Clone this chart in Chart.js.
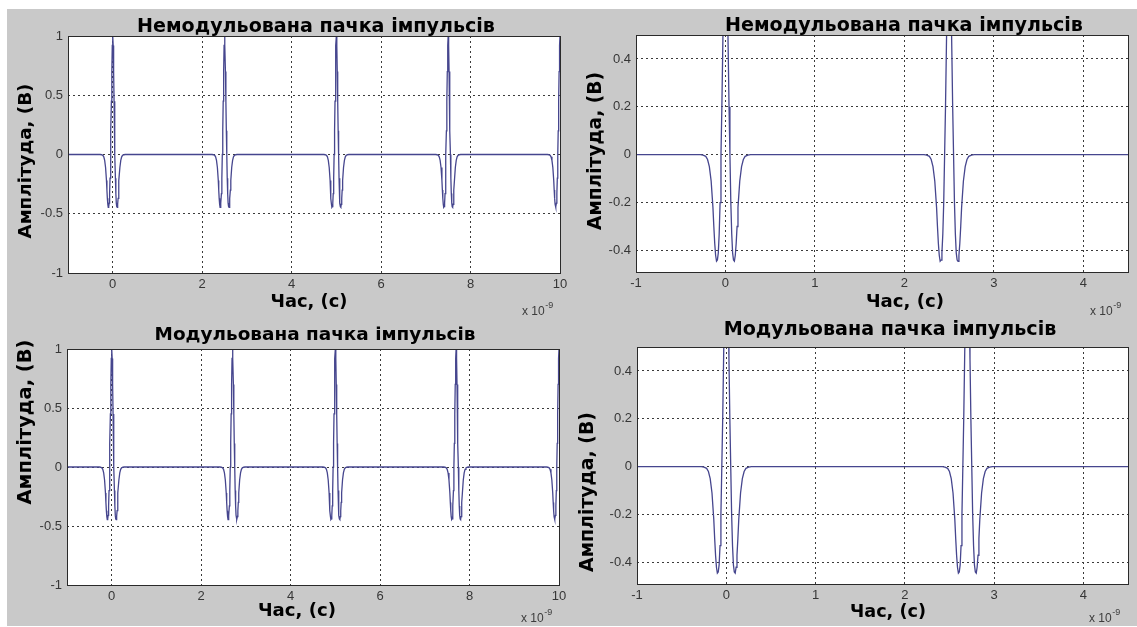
<!DOCTYPE html>
<html><head><meta charset="utf-8">
<script src="https://cdn.jsdelivr.net/npm/chart.js@4.4.1/dist/chart.umd.min.js"></script>
<style>
html,body{margin:0;padding:0;background:#fff;width:1137px;height:627px;overflow:hidden}
#bg{position:absolute;left:7px;top:9px;width:1130px;height:617px;background:#c9c9c9}
canvas{position:absolute;left:0;top:0}
</style></head><body>
<div id="bg"></div>
<canvas id="c0" width="1137" height="627"></canvas>
<canvas id="c1" width="1137" height="627"></canvas>
<canvas id="c2" width="1137" height="627"></canvas>
<canvas id="c3" width="1137" height="627"></canvas>
<script>
// ---- data (time in units of 1e-9 s) ----
const pulseOffsets = [-0.28,-0.25,-0.22,-0.2,-0.18,-0.16,-0.14,-0.13,-0.12,-0.11,-0.1,-0.09,-0.08,-0.07,-0.06,-0.05,-0.04,-0.03,-0.02,-0.01,0,
                      0.01,0.02,0.03,0.04,0.05,0.06,0.07,0.08,0.09,0.1,0.11,0.12,0.13,0.14,0.16,0.18,0.2,0.22,0.25,0.28];
const pulseValues  = [0,-0.002,-0.007,-0.02,-0.05,-0.11,-0.22,-0.3,-0.37,-0.42,-0.445,-0.44,-0.41,-0.33,-0.2,0,0.2,0.45,0.7,0.92,1,
                      0.92,0.7,0.45,0.2,0,-0.2,-0.33,-0.41,-0.44,-0.445,-0.42,-0.37,-0.3,-0.22,-0.11,-0.05,-0.02,-0.007,-0.002,0];
const unmodulatedCenters = [0, 2.5, 5.0, 7.5, 10.0];
const modulatedCenters   = [0, 2.7, 5.0, 7.7, 10.0];
const startTime = -1;

const xTicksWide = [0, 2, 4, 6, 8, 10];
const xTickLabelsWide = ['0','2','4','6','8','10'];
const yTicksWide = [-1, -0.5, 0, 0.5, 1];
const yTickLabelsWide = ['-1','-0.5','0','0.5','1'];
const xTicksZoom = [-1, 0, 1, 2, 3, 4];
const xTickLabelsZoom = ['-1','0','1','2','3','4'];
const yTicksZoom = [-0.4, -0.2, 0, 0.2, 0.4];
const yTickLabelsZoom = ['-0.4','-0.2','0','0.2','0.4'];
const xRangeWide = [-1, 10];
const yRangeWide = [-1, 1];
const xRangeZoom = [-1, 4.5];
const yRangeZoom = [-0.49, 0.5];

const titles = ['Немодульована пачка імпульсів','Немодульована пачка імпульсів','Модульована пачка імпульсів','Модульована пачка імпульсів'];
const xAxisLabel = 'Час, (с)';
const yAxisLabel = 'Амплітуда, (В)';
const xExponentBase = 'x 10';
const xExponentPower = '-9';

function burst(centers){
  const pts = [{x:startTime, y:0}];
  centers.forEach(c => pulseOffsets.forEach((o,i) => pts.push({x:c+o, y:pulseValues[i]})));
  return pts;
}
const unmodulated = burst(unmodulatedCenters);
const modulated = burst(modulatedCenters);

// ---- layout / style ----
const W = 1137, H = 627, YW = 40, XH = 24;
const LINE = '#46468e', GRID = '#3a3a3a', TICKC = '#363636';
const BOLD = "'DejaVu Sans', Verdana, sans-serif";
const REG = "'Liberation Sans', Arial, sans-serif";

const panels = [
  {id:'c0', area:[68,36,560,273], wide:true, data:unmodulated, t:0, titleP:[316,32], titleW:358, xlab:[309,307], xlabW:77, ylab:[26,161], ylabW:155, exp:[522,315]},
  {id:'c1', area:[636,35,1128,272], wide:false, data:unmodulated, t:1, titleP:[904,31], titleW:358, xlab:[905,307], xlabW:78, ylab:[596,151], ylabW:158, exp:[1090,315]},
  {id:'c2', area:[67,349,559,585], wide:true, data:modulated, t:2, titleP:[315,340], titleW:321, xlab:[297,616], xlabW:78, ylab:[26,422], ylabW:165, exp:[521,622]},
  {id:'c3', area:[637,347,1128,584], wide:false, data:modulated, t:3, titleP:[890,335], titleW:333, xlab:[888,617], xlabW:76, ylab:[588,492], ylabW:160, exp:[1089,622]}
];

function fitFont(ctx, text, family, target){
  ctx.font = 'bold 20px ' + family;
  const w = ctx.measureText(text).width;
  return 'bold ' + (20 * target / w).toFixed(2) + 'px ' + family;
}

const framePlugin = {
  id:'frame',
  beforeDraw(chart){
    const a = chart.chartArea, ctx = chart.ctx;
    ctx.save(); ctx.fillStyle = '#ffffff';
    ctx.fillRect(a.left, a.top, a.right - a.left, a.bottom - a.top);
    ctx.restore();
  },
  afterDraw(chart){
    const a = chart.chartArea, ctx = chart.ctx, p = chart.options.plugins.frame;
    ctx.save();
    ctx.setLineDash([]);
    ctx.strokeStyle = '#2a2a2a'; ctx.lineWidth = 1;
    ctx.strokeRect(Math.round(a.left)+0.5, Math.round(a.top)+0.5, Math.round(a.right-a.left), Math.round(a.bottom-a.top));
    // title
    ctx.fillStyle = '#000'; ctx.textAlign = 'center'; ctx.textBaseline = 'alphabetic';
    ctx.font = fitFont(ctx, p.title, BOLD, p.titleW);
    ctx.fillText(p.title, p.titleP[0], p.titleP[1]);
    // x label
    ctx.font = fitFont(ctx, xAxisLabel, BOLD, p.xlabW);
    ctx.fillText(xAxisLabel, p.xlab[0], p.xlab[1]);
    // y label
    ctx.save();
    ctx.translate(p.ylab[0], p.ylab[1]); ctx.rotate(-Math.PI/2);
    ctx.textBaseline = 'middle';
    ctx.font = fitFont(ctx, yAxisLabel, BOLD, p.ylabW);
    ctx.fillText(yAxisLabel, 0, 0);
    ctx.restore();
    // exponent
    ctx.fillStyle = '#3c3c3c'; ctx.textAlign = 'left';
    ctx.font = '12px ' + REG;
    ctx.fillText(xExponentBase, p.exp[0], p.exp[1]);
    const bw = ctx.measureText(xExponentBase).width;
    ctx.font = '9px ' + REG;
    ctx.fillText(xExponentPower, p.exp[0] + bw + 0.5, p.exp[1] - 7);
    ctx.restore();
  }
};

panels.forEach(p => {
  const [L,T,R,B] = p.area;
  const xt = p.wide ? xTicksWide : xTicksZoom, xl = p.wide ? xTickLabelsWide : xTickLabelsZoom;
  const yt = p.wide ? yTicksWide : yTicksZoom, yl = p.wide ? yTickLabelsWide : yTickLabelsZoom;
  const xr = p.wide ? xRangeWide : xRangeZoom, yr = p.wide ? yRangeWide : yRangeZoom;
  new Chart(document.getElementById(p.id), {
    type:'line',
    data:{datasets:[{data:p.data, borderColor:LINE, borderWidth:1.3, pointRadius:0, tension:0, fill:false}]},
    options:{
      responsive:false, animation:false, devicePixelRatio:1,
      events:[],
      layout:{padding:{left:L-YW, top:T, right:W-R, bottom:H-B-XH}},
      plugins:{legend:{display:false}, tooltip:{enabled:false}, title:{display:false},
        frame:{title:titles[p.t], titleP:p.titleP, titleW:p.titleW, xlab:p.xlab, xlabW:p.xlabW, ylab:p.ylab, ylabW:p.ylabW, exp:p.exp}},
      scales:{
        x:{type:'linear', min:xr[0], max:xr[1],
          afterBuildTicks(s){ s.ticks = xt.map(v => ({value:v})); },
          afterFit(s){ s.height = XH; },
          ticks:{padding:4, color:TICKC, font:{family:REG, size:13}, maxRotation:0, autoSkip:false,
            callback:(v,i) => xl[i]},
          grid:{color:GRID, lineWidth:1, drawTicks:false},
          border:{display:false, dash:[2,3]}
        },
        y:{type:'linear', min:yr[0], max:yr[1],
          afterBuildTicks(s){ s.ticks = yt.map(v => ({value:v})); },
          afterFit(s){ s.width = YW; },
          ticks:{padding:5, color:TICKC, font:{family:REG, size:13}, autoSkip:false,
            callback:(v,i) => yl[i]},
          grid:{color:GRID, lineWidth:1, drawTicks:false},
          border:{display:false, dash:[2,3]}
        }
      }
    },
    plugins:[framePlugin]
  });
});
</script>
</body></html>
